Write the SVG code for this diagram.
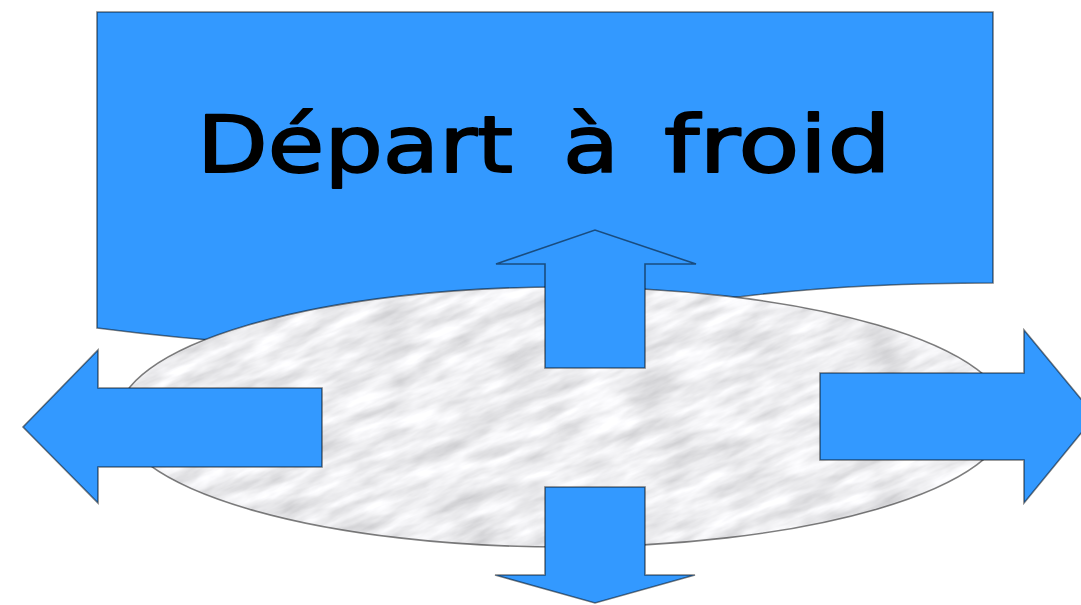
<svg xmlns="http://www.w3.org/2000/svg" width="1081" height="605" viewBox="0 0 1081 605">
  <style>
    .blue { fill: #3399ff; stroke: #000; stroke-opacity: 0.5; stroke-width: 1.6; stroke-linejoin: miter; }
    .label { font-family: "DejaVu Sans", "Liberation Sans", sans-serif; font-weight: normal; font-size: 78px; fill: #000; stroke: #000; stroke-width: 1.8; stroke-linejoin: round; }
  </style>
  <defs>
    <filter id="marble" filterUnits="userSpaceOnUse" x="0" y="0" width="1200" height="500">
      <feTurbulence type="fractalNoise" baseFrequency="0.018 0.07" numOctaves="4" seed="11" result="n"/>
      <feColorMatrix in="n" type="matrix" values="0.6 0 0 0 0.55  0.6 0 0 0 0.55  0.6 0 0 0 0.57  0 0 0 0 1"/>
    </filter>
    <clipPath id="stoneClip">
      <ellipse cx="563" cy="417" rx="445" ry="130"/>
    </clipPath>
  </defs>
  <rect width="1081" height="605" fill="#ffffff"/>

  <g id="banner">
    <path class="blue" d="M97,12 H993 V283 C545,283 545,386 97,328 Z"/>
    <text class="label" y="172"><tspan x="197" textLength="316" lengthAdjust="spacingAndGlyphs">Départ</tspan><tspan x="563" textLength="56" lengthAdjust="spacingAndGlyphs">à</tspan><tspan x="664" textLength="227" lengthAdjust="spacingAndGlyphs">froid</tspan></text>
  </g>

  <g id="stone">
    <g clip-path="url(#stoneClip)">
      <ellipse cx="563" cy="417" rx="445" ry="130" fill="#e2e2e6"/>
      <g transform="rotate(-22 563 417)">
        <rect x="0" y="0" width="1200" height="500" transform="translate(-37 167)" filter="url(#marble)"/>
      </g>
    </g>
    <ellipse cx="563" cy="417" rx="445" ry="130" fill="none" stroke="#000" stroke-opacity="0.5" stroke-width="1.6"/>
  </g>

  <g id="arrows">
    <g id="arrow-up">
      <polygon class="blue" points="545,368 545,264 496,264 595,230 696,264 645,264 645,368"/>
    </g>
    <g id="arrow-down">
      <polygon class="blue" points="545,487 645,487 645,575 695,575 595,603 495,575 545,575"/>
    </g>
    <g id="arrow-left">
      <polygon class="blue" points="322,388 98,388 98,350 23,427 98,503 98,467 322,467"/>
    </g>
    <g id="arrow-right">
      <polygon class="blue" points="820,373 1024,373 1024,330 1095,416 1024,503 1024,460 820,460"/>
    </g>
  </g>
</svg>
